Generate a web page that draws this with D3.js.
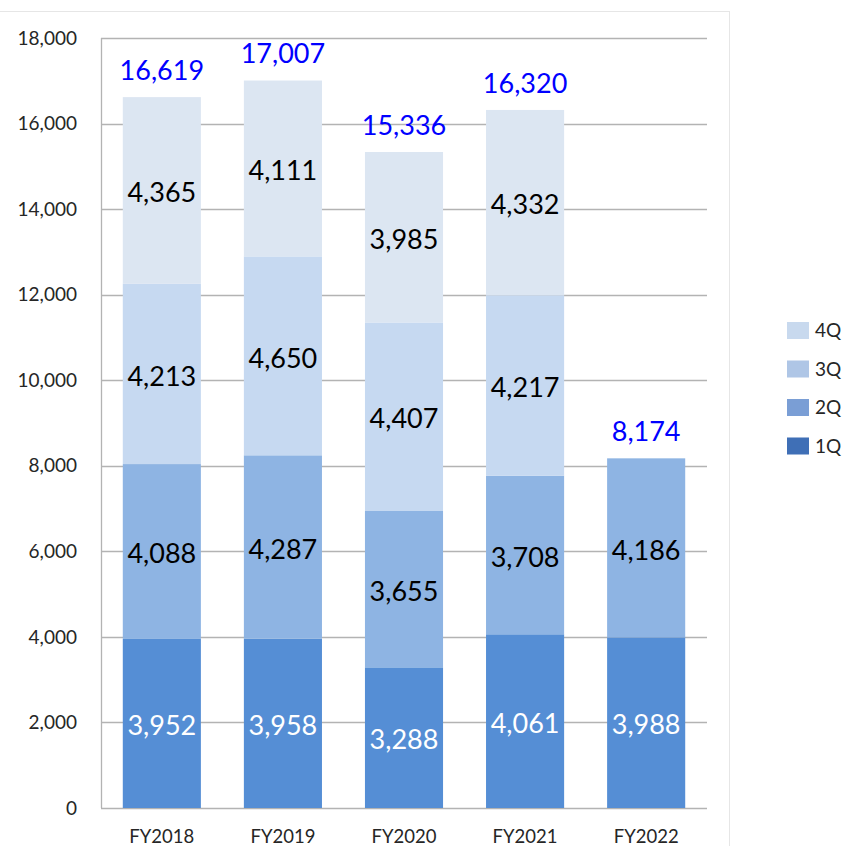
<!DOCTYPE html>
<html>
<head>
<meta charset="utf-8">
<script src="https://cdn.jsdelivr.net/npm/d3@7"></script>
<style>
  body { margin: 0; background: #fff; }
  text { font-family: Lato, "Open Sans", sans-serif; }
</style>
</head>
<body>
<script>
let years = ['FY2018', 'FY2019', 'FY2020', 'FY2021', 'FY2022']
let quarters = ['1Q', '2Q', '3Q', '4Q']
let q1 = [3952, 3958, 3288, 4061, 3988]
let q2 = [4088, 4287, 3655, 3708, 4186]
let q3 = [4213, 4650, 4407, 4217, 0]
let q4 = [4365, 4111, 3985, 4332, 0]
let totals = [16619, 17007, 15336, 16320, 8174]
let yTicks = [0, 2000, 4000, 6000, 8000, 10000, 12000, 14000, 16000, 18000]

let barColors = ['#558ed5', '#8eb4e3', '#c6d9f1', '#dce6f2']
let legendColors = ['#3f6fb6', '#7a9ed5', '#afc6e6', '#c8d9ee']
let labelColors = ['#ffffff', '#000000', '#000000', '#000000']

let width = 845, height = 846
let plotLeft = 101, plotRight = 707, plotTop = 38, plotBottom = 808

let svg = d3.select('body').append('svg')
  .attr('width', width)
  .attr('height', height)

// outer chart frame (partly visible)
svg.append('line').attr('x1', 0).attr('x2', 729).attr('y1', 11.5).attr('y2', 11.5)
  .style('stroke', '#e6e6e6')
svg.append('line').attr('x1', 729.5).attr('x2', 729.5).attr('y1', 11).attr('y2', height)
  .style('stroke', '#e6e6e6')

let x = d3.scaleBand().domain(years).range([plotLeft, plotRight]).paddingInner(0.355).paddingOuter(0.18)
let y = d3.scaleLinear().domain([0, 18000]).range([plotBottom, plotTop])

// gridlines
svg.append('g').selectAll('line')
  .data(yTicks)
  .enter().append('line')
  .attr('x1', plotLeft).attr('x2', plotRight)
  .attr('y1', d => Math.round(y(d)) + 0.5).attr('y2', d => Math.round(y(d)) + 0.5)
  .style('stroke', '#b3b3b3')
  .style('stroke-width', '1.3px')

svg.append('line')
  .attr('x1', plotLeft + 0.5).attr('x2', plotLeft + 0.5)
  .attr('y1', plotTop).attr('y2', plotBottom)
  .style('stroke', '#b3b3b3')
  .style('stroke-width', '1.3px')

// y tick labels
svg.append('g').selectAll('text')
  .data(yTicks)
  .enter().append('text')
  .attr('x', 77)
  .attr('y', d => y(d))
  .attr('dy', '0.35em')
  .attr('text-anchor', 'end')
  .style('font-size', '19px')
  .style('fill', '#262626')
  .text(d => d3.format(',')(d))

// x labels
svg.append('g').selectAll('text')
  .data(years)
  .enter().append('text')
  .attr('x', d => x(d) + x.bandwidth() / 2)
  .attr('y', 843)
  .attr('text-anchor', 'middle')
  .style('font-size', '18.5px')
  .style('fill', '#262626')
  .text(d => d)

// stacked bars
let table = years.map((yr, i) => ({ year: yr, '1Q': q1[i], '2Q': q2[i], '3Q': q3[i], '4Q': q4[i] }))
let series = d3.stack().keys(quarters)(table)

series.forEach((s, k) => {
  let g = svg.append('g')
  g.selectAll('rect')
    .data(s.filter(d => d[1] > d[0]))
    .enter().append('rect')
    .attr('x', d => x(d.data.year))
    .attr('width', x.bandwidth())
    .attr('y', d => y(d[1]))
    .attr('height', d => y(d[0]) - y(d[1]))
    .style('fill', barColors[k])

  g.selectAll('text')
    .data(s.filter(d => d[1] > d[0]))
    .enter().append('text')
    .attr('x', d => x(d.data.year) + x.bandwidth() / 2)
    .attr('y', d => (y(d[0]) + y(d[1])) / 2 + 2)
    .attr('dy', '0.36em')
    .attr('text-anchor', 'middle')
    .style('font-size', '27px')
    .style('fill', labelColors[k])
    .text(d => d3.format(',')(d[1] - d[0]))
})

// totals
svg.append('g').selectAll('text')
  .data(totals)
  .enter().append('text')
  .attr('x', (d, i) => x(years[i]) + x.bandwidth() / 2)
  .attr('y', d => y(d) - 27)
  .attr('dy', '0.36em')
  .attr('text-anchor', 'middle')
  .style('font-size', '27px')
  .style('fill', '#0000ff')
  .text(d => d3.format(',')(d))

// legend, 4Q on top
let legend = svg.append('g').selectAll('g')
  .data(quarters.slice().reverse())
  .enter().append('g')
  .attr('transform', (d, i) => 'translate(787,' + (322 + i * 38.5) + ')')

legend.append('rect')
  .attr('width', 22).attr('height', 17)
  .style('fill', d => legendColors[quarters.indexOf(d)])

legend.append('text')
  .attr('x', 28).attr('y', 8.5)
  .attr('dy', '0.36em')
  .style('font-size', '19px')
  .style('fill', '#262626')
  .text(d => d)
</script>
</body>
</html>
